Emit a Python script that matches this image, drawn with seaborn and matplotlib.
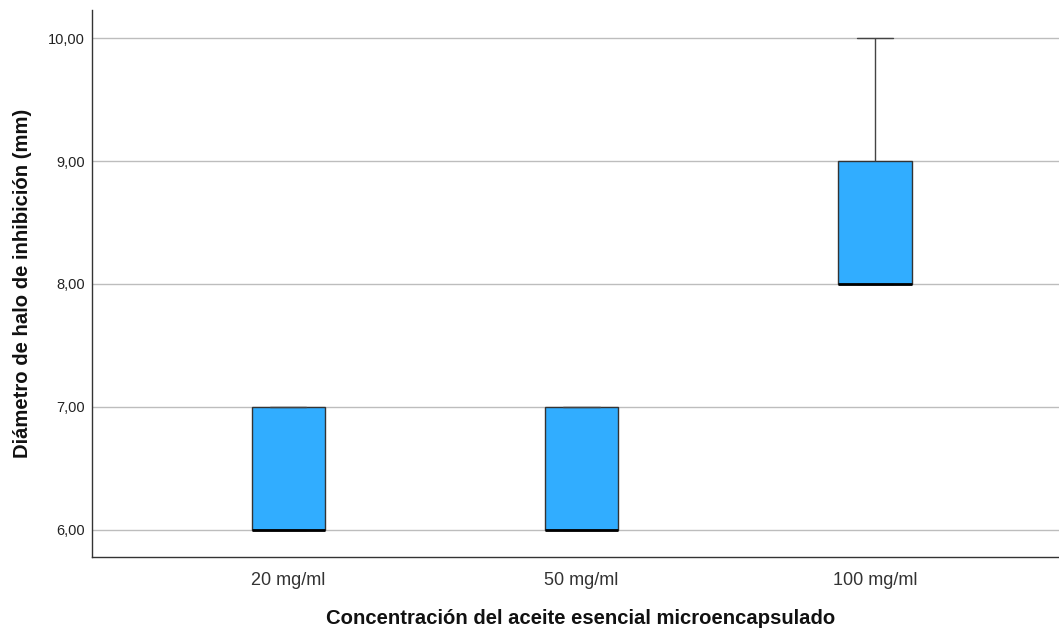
import numpy as np
import pandas as pd
import seaborn as sns
import matplotlib
matplotlib.use("Agg")
import matplotlib.pyplot as plt
from matplotlib.ticker import FuncFormatter, FixedLocator

# Inhibition halo diameters (mm) per concentration group
categories = ["20 mg/ml", "50 mg/ml", "100 mg/ml"]
halo_20 = [6, 6, 6, 7, 7]
halo_50 = [6, 6, 6, 7, 7]
halo_100 = [8, 8, 8, 9, 10]
y_ticks = [6, 7, 8, 9, 10]

df = pd.DataFrame({
    "conc": [categories[0]] * len(halo_20) + [categories[1]] * len(halo_50) + [categories[2]] * len(halo_100),
    "diam": halo_20 + halo_50 + halo_100,
})

sns.set_theme(style="white")
plt.rcParams["font.family"] = ["Liberation Sans", "DejaVu Sans"]

fig = plt.figure(figsize=(10.59, 6.29), dpi=100)
ax = fig.add_axes([92 / 1059, (629 - 557) / 629, (1059 - 92) / 1059, (557 - 10) / 629])

sns.boxplot(
    data=df, x="conc", y="diam", order=categories, ax=ax,
    width=0.249, color="#31ADFF", saturation=1, linecolor="#333333", linewidth=1.0,
    whis=1.5, showfliers=False,
    boxprops=dict(facecolor="#31ADFF", edgecolor="#333333"),
    whiskerprops=dict(color="#444444", linewidth=1.0),
    capprops=dict(color="#444444", linewidth=1.0),
    medianprops=dict(color="#000000", linewidth=2.0),
)

ax.set_xlim(-0.668, 2.627)
ax.set_ylim(5.78, 10.228)
ax.yaxis.set_major_locator(FixedLocator(y_ticks))
ax.yaxis.set_major_formatter(FuncFormatter(lambda v, p: f"{v:.2f}".replace(".", ",")))

ax.grid(axis="y", color="#bdbdbd", linewidth=1.0)
ax.grid(axis="x", visible=False)
ax.set_axisbelow(True)

for side in ["top", "right"]:
    ax.spines[side].set_visible(False)
for side in ["left", "bottom"]:
    ax.spines[side].set_color("#333333")
    ax.spines[side].set_linewidth(1.0)

ax.tick_params(axis="y", length=0, pad=5, labelsize=10.5, labelcolor="#222222")
ax.tick_params(axis="x", length=0, pad=11, labelsize=13, labelcolor="#333333")

ax.set_xlabel("Concentración del aceite esencial microencapsulado", fontsize=14.6, fontweight="bold",
              color="#111111", labelpad=16)
ax.set_ylabel("Diámetro de halo de inhibición (mm)", fontsize=14.6, fontweight="bold",
              color="#111111", labelpad=12)
ax.xaxis.set_label_coords(0.505, -0.095)

fig.savefig("out.png", dpi=100)
